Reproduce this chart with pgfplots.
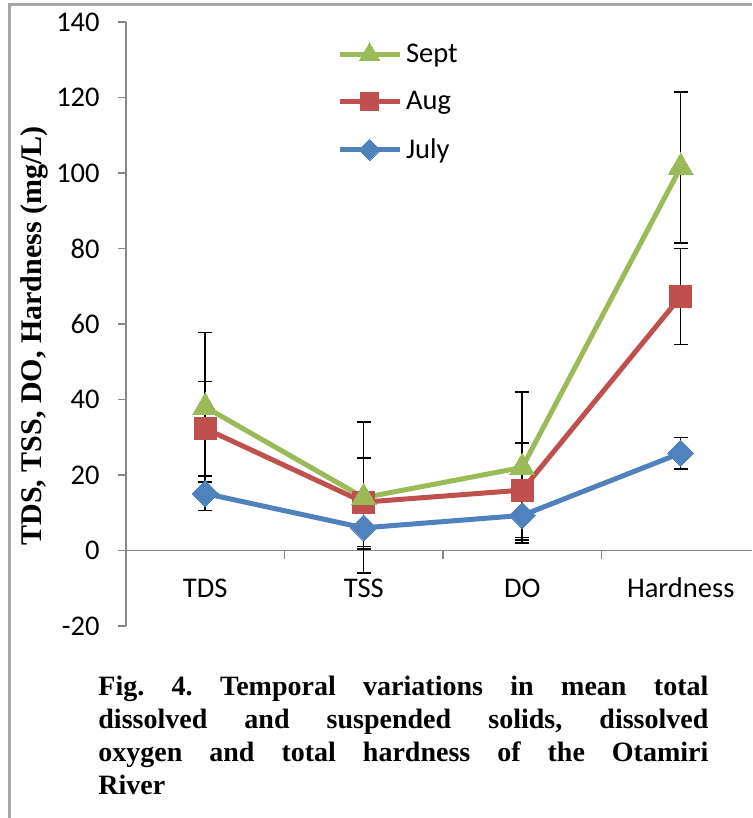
\documentclass[border=0pt]{standalone}
\usepackage{pgfplots}
\pgfplotsset{compat=1.18}
\usepackage{pgfplotstable}
\usepackage{fontspec}
\setmainfont{Liberation Serif}
\newfontfamily\calibri{Carlito}
\definecolor{xgreen}{HTML}{9BBB59}
\definecolor{xred}{HTML}{C0504D}
\definecolor{xblue}{HTML}{4F81BD}
\definecolor{axgray}{HTML}{868686}
\definecolor{framegray}{HTML}{A6A6A6}

\pgfplotstableread{
x y ep em
0.5 15.1 4.5 4.5
1.5 6.0 5.6 5.6
2.5 9.3 4.0 6.5
3.5 25.8 4.2 4.2
}\julytab
\pgfplotstableread{
x y ep em
0.5 32.3 12.5 12.5
1.5 12.8 11.7 11.7
2.5 16.0 12.5 12.5
3.5 67.3 12.7 12.7
}\augtab
\pgfplotstableread{
x y ep em
0.5 38.0 19.8 19.8
1.5 14.0 20.0 20.0
2.5 22.0 20.0 20.0
3.5 101.5 20.0 20.0
}\septtab

\begin{document}
\begin{tikzpicture}[x=1pt,y=1pt]
\useasboundingbox (0,0) rectangle (376,-409);
\draw[framegray, line width=1.5pt] (4.75,-409) -- (4.75,-2.5) -- (376,-2.5);
\begin{axis}[
  at={(63pt,-313pt)}, anchor=south west,
  scale only axis, width=313pt, height=302pt,
  xmin=0, xmax=3.95, ymin=-20, ymax=140,
  axis x line*=middle, axis y line*=left,
  axis line style={axgray, line width=0.85pt},
  xtick={0.5,1.5,2.5,3.5},
  xticklabels={TDS,TSS,DO,Hardness},
  minor xtick={1,2,3},
  ytick={-20,0,20,40,60,80,100,120,140},
  tick align=outside,
  major tick length=4pt,
  minor tick length=4pt,
  x tick style={draw=none},
  minor x tick style={draw=axgray, line width=0.85pt},
  y tick style={axgray, line width=0.85pt},
  tick label style={font=\calibri\fontsize{14.25}{17}\selectfont},
  /pgf/number format/assume math mode=true,
  xticklabel style={anchor=base, yshift=-19.5pt},
  yticklabel style={inner sep=0pt, xshift=-9pt},
  clip=false,
  legend style={draw=none, fill=none, at={(0.327,0.978)}, anchor=north west,
    font=\calibri\fontsize{14.25}{17}\selectfont, row sep=9pt},
  legend cell align=left,
  reverse legend,
  legend image code/.code={\draw[mark repeat=2, mark phase=2, #1, every mark/.append style={scale=0.82}] plot coordinates {(0pt,0pt) (15pt,0pt) (30pt,0pt)};},
  every axis plot/.append style={line width=2.5pt},
  error bars/y dir=both, error bars/y explicit,
  error bars/error bar style={black, line width=0.75pt, solid},
  error bars/error mark options={rotate=90, mark size=3.5pt, black, line width=0.75pt},
]
\addplot[color=xblue, mark=square*, mark size=4.6pt, mark options={rotate=45, fill=xblue, draw=xblue, line width=0pt}]
  table[x=x, y=y, y error plus=ep, y error minus=em] {\julytab};
\addlegendentry{July}
\addplot[color=xred, mark=square*, mark size=5.5pt, mark options={fill=xred, draw=xred, line width=0pt}]
  table[x=x, y=y, y error plus=ep, y error minus=em] {\augtab};
\addlegendentry{Aug}
\addplot[color=xgreen, mark=triangle*, mark size=7.2pt, mark options={fill=xgreen, draw=xgreen, line width=0pt}]
  table[x=x, y=y, y error plus=ep, y error minus=em] {\septtab};
\addlegendentry{Sept}
\end{axis}
\node[rotate=90, inner sep=0pt, font=\bfseries\fontsize{15}{18}\selectfont] at (17,-168) {TDS, TSS, DO, Hardness (mg/L)};
\node[anchor=base west, inner sep=0pt] at (49,-347.5) {\parbox[t]{305pt}{\bfseries\frenchspacing\fontsize{14}{16.5}\selectfont
Fig. 4. Temporal variations in mean total\linebreak
dissolved and suspended solids, dissolved\linebreak
oxygen and total hardness of the Otamiri\linebreak
River}};
\end{tikzpicture}
\end{document}
